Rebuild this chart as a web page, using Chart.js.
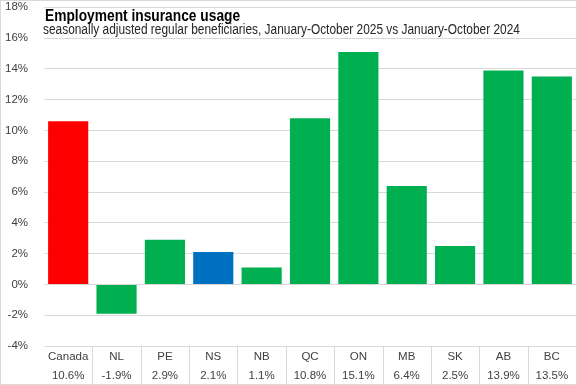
<!DOCTYPE html>
<html><head><meta charset="utf-8">
<script src="https://cdn.jsdelivr.net/npm/chart.js@4"></script>
<style>html,body{margin:0;padding:0;background:#fff}#wrap{width:577px;height:385px;position:relative}</style>
</head><body><div id="wrap"><canvas id="c" width="577" height="385"></canvas></div>
<script>
const categories = ["Canada","NL","PE","NS","NB","QC","ON","MB","SK","AB","BC"];
const values = [10.6,-1.9,2.9,2.1,1.1,10.8,15.1,6.4,2.5,13.9,13.5];
const valueLabels = ["10.6%","-1.9%","2.9%","2.1%","1.1%","10.8%","15.1%","6.4%","2.5%","13.9%","13.5%"];
const barColors = ["#FF0000","#00B050","#00B050","#0070C0","#00B050","#00B050","#00B050","#00B050","#00B050","#00B050","#00B050"];
const titleText = "Employment insurance usage";
const subtitleText = "seasonally adjusted regular beneficiaries, January-October 2025 vs January-October 2024";
const FONT = "'Liberation Sans', Arial, sans-serif";
const gridColor = "#D9D9D9";

const overlay = {
  id: 'overlay',
  afterDraw(chart) {
    const ctx = chart.ctx, a = chart.chartArea, xs = chart.scales.x;
    ctx.save();
    ctx.strokeStyle = gridColor;
    ctx.lineWidth = 1;
    for (let i = 1; i < categories.length; i++) {
      const x = Math.round((xs.getPixelForValue(i - 1) + xs.getPixelForValue(i)) / 2) + 0.5;
      ctx.beginPath(); ctx.moveTo(x, a.bottom); ctx.lineTo(x, chart.height); ctx.stroke();
    }
    ctx.strokeRect(0.5, 0.5, chart.width - 1, chart.height - 1);
    ctx.textBaseline = 'alphabetic';
    ctx.textAlign = 'left';
    ctx.save();
    ctx.translate(a.left + 1, 21);
    ctx.scale(0.81, 1);
    ctx.fillStyle = '#000';
    ctx.font = "bold 17px " + FONT;
    ctx.fillText(titleText, 0, 0);
    ctx.restore();
    ctx.save();
    ctx.translate(a.left - 1, 34);
    ctx.scale(0.85, 1);
    ctx.fillStyle = '#262626';
    ctx.font = "14px " + FONT;
    ctx.fillText(subtitleText, 0, 0);
    ctx.restore();
    ctx.restore();
  }
};

new Chart(document.getElementById('c'), {
  type: 'bar',
  data: {
    labels: categories,
    datasets: [{ data: values, backgroundColor: barColors, barPercentage: 0.83, categoryPercentage: 1 }]
  },
  options: {
    responsive: false,
    animation: false,
    devicePixelRatio: 1,
    layout: { padding: { top: 1, right: 1, left: 0, bottom: 0 } },
    plugins: { legend: { display: false }, tooltip: { enabled: false } },
    scales: {
      y: {
        min: -4, max: 18,
        afterFit: s => { s.width = 44; },
        ticks: { stepSize: 2, callback: v => v + '%', color: '#404040', font: { size: 11.5, family: FONT, lineHeight: 1.1 }, padding: 1 },
        grid: { color: gridColor, drawTicks: true, tickLength: 15, tickColor: 'rgba(0,0,0,0)' },
        border: { display: false }
      },
      x: {
        afterFit: s => { s.height = 39; },
        grid: { display: false },
        border: { display: false },
        ticks: {
          color: '#404040', font: { size: 11.5, family: FONT, lineHeight: 1.6 }, padding: -6,
          maxRotation: 0, autoSkip: false,
          callback: (v, i) => [categories[i], valueLabels[i]]
        }
      }
    }
  },
  plugins: [overlay]
});
</script></body></html>
